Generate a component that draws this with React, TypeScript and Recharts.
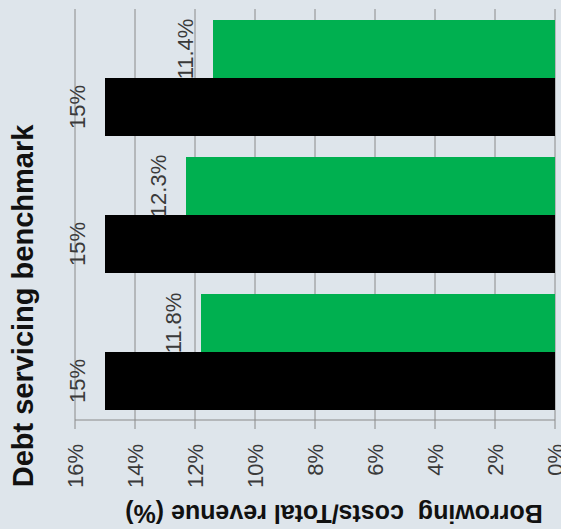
import React from 'react';
import { BarChart, Bar, XAxis, YAxis, CartesianGrid, LabelList } from 'recharts';

const categories = ['Year 1', 'Year 2', 'Year 3'];
const actualValues = [11.8, 12.3, 11.4];
const benchmarkValues = [15, 15, 15];
const valueTicks = [0, 2, 4, 6, 8, 10, 12, 14, 16];
const chartTitle = 'Debt servicing benchmark';
const valueAxisTitle = 'Borrowing  costs/Total revenue (%)';

const data = categories.map((c, i) => ({
  category: c,
  actual: actualValues[i],
  benchmark: benchmarkValues[i],
}));

const FONT = '"Liberation Sans", Arial, sans-serif';
const BG = '#dee5eb';
const GRID = '#8a8a8a';
const LABEL = '#3a3a3a';

const ValueTick = (props: any) => {
  const { x, y, payload } = props;
  return (
    <text
      x={x}
      y={y}
      transform={`rotate(-90 ${x} ${y})`}
      textAnchor="end"
      dy="0.35em"
      fontSize={22}
      fontFamily={FONT}
      fill={LABEL}
    >
      {`${payload.value}%`}
    </text>
  );
};

const makeBarLabel = (offset: number) => (props: any) => {
  const { x, y, width, height, value } = props;
  const left = Math.min(Number(x), Number(x) + Number(width));
  const cx = left - offset;
  const cy = Number(y) + Number(height) / 2;
  return (
    <text
      x={cx}
      y={cy}
      transform={`rotate(-90 ${cx} ${cy})`}
      textAnchor="middle"
      dy="0.35em"
      fontSize={22}
      fontFamily={FONT}
      fill={LABEL}
    >
      {`${value}%`}
    </text>
  );
};

export default function App() {
  return (
    <div style={{ position: 'absolute', left: 0, top: 0, width: 561, height: 529, background: BG }}>
      <BarChart
        width={561}
        height={529}
        data={data}
        layout="vertical"
        margin={{ top: 9, right: 6, left: 75, bottom: 0 }}
        barCategoryGap="8%"
        barGap={0}
      >
        <CartesianGrid horizontal={false} vertical={true} stroke={GRID} strokeWidth={1} />
        <XAxis
          type="number"
          domain={[0, 16]}
          ticks={valueTicks}
          reversed
          height={109}
          interval={0}
          axisLine={{ stroke: GRID }}
          tickLine={{ stroke: GRID }}
          tickSize={9}
          tickMargin={15}
          tick={<ValueTick />}
        />
        <YAxis type="category" dataKey="category" reversed hide />
        <Bar dataKey="actual" fill="#00b050" isAnimationActive={false}>
          <LabelList dataKey="actual" content={makeBarLabel(28)} />
        </Bar>
        <Bar dataKey="benchmark" fill="#000000" isAnimationActive={false}>
          <LabelList dataKey="benchmark" content={makeBarLabel(28)} />
        </Bar>
        <text
          x={33}
          y={306}
          transform="rotate(-90 33 306)"
          textAnchor="middle"
          fontSize={29}
          fontWeight="bold"
          fontFamily={FONT}
          fill="#111"
        >
          {chartTitle}
        </text>
        <text
          x={334}
          y={505}
          transform="rotate(180 334 505)"
          textAnchor="middle"
          fontSize={25}
          fontWeight="bold"
          fontFamily={FONT}
          fill="#111"
          style={{ whiteSpace: 'pre' }}
        >
          {valueAxisTitle}
        </text>
      </BarChart>
    </div>
  );
}
